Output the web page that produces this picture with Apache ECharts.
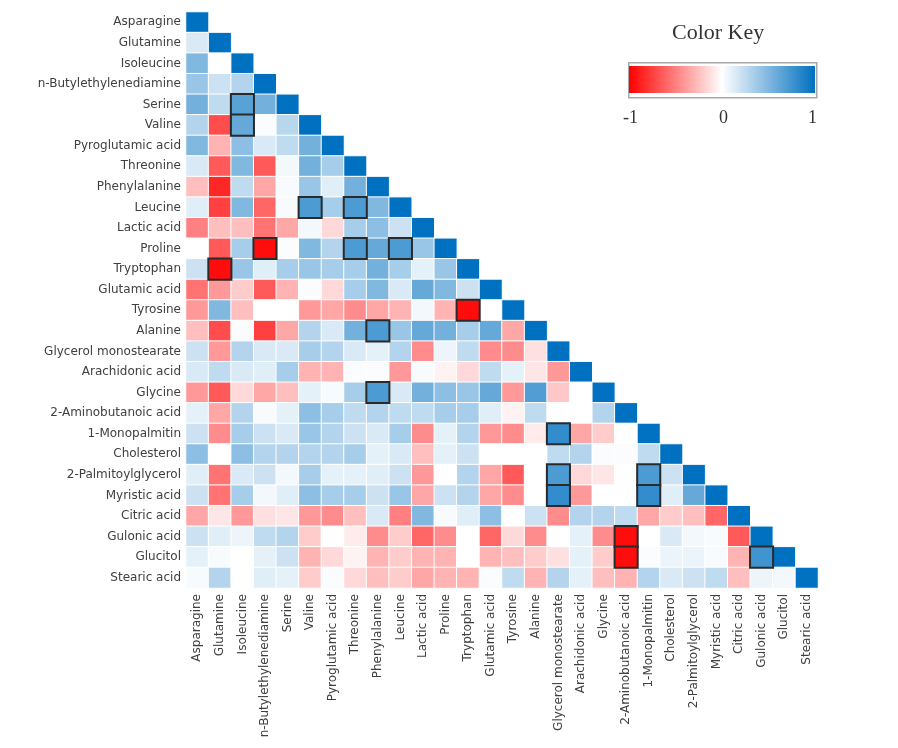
<!DOCTYPE html>
<html>
<head>
<meta charset="utf-8">
<script src="https://cdn.jsdelivr.net/npm/echarts@6/dist/echarts.min.js"></script>
<style>html,body{margin:0;padding:0;background:#fff}#chart{width:898px;height:748px}</style>
</head>
<body>
<div id="chart"></div>
<script>
const labels = ["Asparagine","Glutamine","Isoleucine","n-Butylethylenediamine","Serine","Valine","Pyroglutamic acid","Threonine","Phenylalanine","Leucine","Lactic acid","Proline","Tryptophan","Glutamic acid","Tyrosine","Alanine","Glycerol monostearate","Arachidonic acid","Glycine","2-Aminobutanoic acid","1-Monopalmitin","Cholesterol","2-Palmitoylglycerol","Myristic acid","Citric acid","Gulonic acid","Glucitol","Stearic acid"];

// lower-triangle correlations, one row per variable (columns in label order)
const rowAsparagine = [1];
const rowGlutamine = [0.15, 1];
const rowIsoleucine = [0.5, 0.0, 1];
const rowButylethylenediamine = [0.4, 0.2, 0.3, 1];
const rowSerine = [0.55, 0.25, 0.65, 0.55, 1];
const rowValine = [0.3, -0.7, 0.6, 0.02, 0.28, 1];
const rowPyroglutamic = [0.5, -0.3, 0.45, 0.15, 0.25, 0.55, 1];
const rowThreonine = [0.15, -0.65, 0.5, -0.65, 0.05, 0.55, 0.35, 1];
const rowPhenylalanine = [-0.25, -0.85, 0.25, -0.35, 0.03, 0.4, 0.12, 0.55, 1];
const rowLeucine = [0.12, -0.75, 0.5, -0.6, 0.03, 0.7, 0.35, 0.7, 0.5, 1];
const rowLactic = [-0.5, -0.25, -0.25, -0.55, -0.35, 0.05, -0.15, 0.35, 0.45, 0.2, 1];
const rowProline = [0.0, -0.65, 0.35, -0.95, 0.02, 0.5, 0.3, 0.7, 0.6, 0.7, 0.4, 1];
const rowTryptophan = [0.2, -0.95, 0.4, 0.12, 0.35, 0.4, 0.35, 0.35, 0.55, 0.35, 0.1, 0.4, 1];
const rowGlutamic = [-0.55, -0.4, -0.2, -0.65, -0.3, 0.02, -0.15, 0.35, 0.5, 0.15, 0.6, 0.5, 0.2, 1];
const rowTyrosine = [-0.4, 0.5, -0.25, 0.0, 0.0, -0.4, -0.35, -0.45, -0.35, -0.3, 0.05, -0.3, -0.95, 0.0, 1];
const rowAlanine = [-0.25, -0.7, 0.02, -0.75, -0.35, 0.3, 0.15, 0.55, 0.7, 0.4, 0.6, 0.55, 0.35, 0.6, -0.35, 1];
const rowGlycerolMonostearate = [0.2, -0.4, 0.3, 0.15, 0.15, 0.35, 0.3, 0.15, 0.1, 0.3, -0.45, 0.07, 0.25, -0.45, -0.45, -0.12, 1];
const rowArachidonic = [0.15, 0.25, 0.15, 0.12, 0.35, -0.3, -0.3, 0.02, 0.02, -0.4, 0.03, -0.05, -0.15, 0.25, 0.1, -0.1, -0.4, 1];
const rowGlycine = [-0.4, -0.65, -0.15, -0.35, -0.25, 0.1, 0.03, 0.35, 0.7, 0.15, 0.55, 0.45, 0.4, 0.6, -0.4, 0.68, -0.22, 0.0, 1];
const rowAminobutanoic = [0.1, -0.35, 0.3, 0.03, 0.1, 0.45, 0.35, 0.25, 0.3, 0.25, 0.25, 0.35, 0.35, 0.12, -0.05, 0.25, 0.0, 0.0, 0.3, 1];
const rowMonopalmitin = [0.2, -0.45, 0.35, 0.2, 0.15, 0.4, 0.3, 0.2, 0.15, 0.35, -0.45, 0.1, 0.3, -0.4, -0.45, -0.08, 0.8, -0.35, -0.2, 0.0, 1];
const rowCholesterol = [0.45, 0.0, 0.45, 0.3, 0.3, 0.3, 0.3, 0.35, 0.1, 0.15, -0.25, 0.1, 0.2, 0.0, 0.0, 0.0, 0.25, 0.3, 0.02, 0.02, 0.25, 1];
const rowPalmitoylglycerol = [0.12, -0.55, 0.15, 0.2, 0.05, 0.35, 0.1, 0.1, 0.12, 0.2, -0.4, 0.0, 0.3, -0.35, -0.65, 0.0, 0.7, -0.15, -0.1, 0.0, 0.7, 0.2, 1];
const rowMyristic = [0.2, -0.55, 0.35, 0.05, 0.12, 0.45, 0.35, 0.35, 0.2, 0.4, -0.35, 0.2, 0.3, -0.35, -0.45, 0.0, 0.8, -0.4, 0.0, 0.0, 0.8, 0.12, 0.6, 1];
const rowCitric = [-0.35, -0.1, -0.4, -0.12, -0.1, -0.4, -0.45, -0.25, 0.15, -0.5, 0.5, 0.03, 0.12, 0.45, 0.0, 0.2, -0.45, 0.3, 0.3, 0.25, -0.35, -0.2, -0.25, -0.6, 1];
const rowGulonic = [0.2, 0.12, 0.07, 0.25, 0.3, -0.2, 0.0, -0.08, -0.45, -0.2, -0.6, -0.45, 0.0, -0.6, -0.15, -0.45, 0.0, 0.1, -0.45, -0.95, 0.0, 0.15, 0.05, 0.03, -0.65, 1];
const rowGlucitol = [0.1, 0.03, 0.0, 0.1, 0.2, -0.3, -0.15, -0.05, -0.3, -0.2, -0.3, -0.3, 0.0, -0.3, -0.25, -0.2, -0.12, 0.1, -0.2, -0.95, 0.02, 0.08, 0.08, 0.03, -0.3, 0.75, 1];
const rowStearic = [0.03, 0.3, 0.0, 0.12, 0.1, -0.2, 0.02, -0.15, -0.25, -0.2, -0.35, -0.3, -0.3, 0.02, 0.25, -0.3, 0.3, 0.1, -0.25, -0.3, 0.3, 0.15, 0.2, 0.25, -0.25, 0.07, 0.05, 1];

// highlighted (outlined) pairs: [row, column]
const highlighted = [[4,2],[5,2],[9,5],[9,7],[11,3],[11,7],[11,9],[12,1],[14,12],[15,8],[18,8],[20,16],[22,16],[22,20],[23,16],[23,20],[25,19],[26,19],[26,25]];

const keyTicks = ["-1", "0", "1"];

const rows = [rowAsparagine,rowGlutamine,rowIsoleucine,rowButylethylenediamine,rowSerine,rowValine,rowPyroglutamic,rowThreonine,rowPhenylalanine,rowLeucine,rowLactic,rowProline,rowTryptophan,rowGlutamic,rowTyrosine,rowAlanine,rowGlycerolMonostearate,rowArachidonic,rowGlycine,rowAminobutanoic,rowMonopalmitin,rowCholesterol,rowPalmitoylglycerol,rowMyristic,rowCitric,rowGulonic,rowGlucitol,rowStearic];

const cells = [];
rows.forEach((r, i) => r.forEach((v, j) => cells.push([j, i, v])));
const hiCells = highlighted.map(([i, j]) => [j, i, rows[i][j]]);

const chart = echarts.init(document.getElementById('chart'));
const labelFont = {fontFamily: 'DejaVu Sans', fontSize: 12, color: '#404040'};
chart.setOption({
  backgroundColor: '#ffffff',
  animation: false,
  grid: {left: 186, top: 12, width: 632, height: 576},
  xAxis: {
    type: 'category', data: labels,
    axisLine: {show: false}, axisTick: {show: false}, splitLine: {show: false},
    axisLabel: Object.assign({interval: 0, rotate: 90, margin: 6}, labelFont)
  },
  yAxis: {
    type: 'category', data: labels, inverse: true,
    axisLine: {show: false}, axisTick: {show: false}, splitLine: {show: false},
    axisLabel: Object.assign({interval: 0, margin: 5}, labelFont)
  },
  visualMap: {
    type: 'continuous', show: false, min: -1, max: 1, seriesIndex: [0, 1],
    inRange: {color: ['#ff0000', '#ffffff', '#0070c0']}
  },
  series: [
    {type: 'heatmap', data: cells, itemStyle: {borderColor: '#ffffff', borderWidth: 1}},
    {type: 'heatmap', data: hiCells, itemStyle: {borderColor: '#2a2a2a', borderWidth: 2}, z: 3}
  ],
  graphic: [
    {type: 'text', left: 672, top: 22, style: {text: 'Color Key', font: '22px "Liberation Serif"', fill: '#333'}},
    {type: 'rect', left: 628, top: 62, shape: {width: 188, height: 35}, style: {fill: '#fff', stroke: '#a8a8a8', lineWidth: 1.5}},
    {type: 'rect', left: 629, top: 66, shape: {width: 186, height: 27},
     style: {fill: new echarts.graphic.LinearGradient(0, 0, 1, 0, [
       {offset: 0, color: '#ff0000'}, {offset: 0.5, color: '#ffffff'}, {offset: 1, color: '#0070c0'}])}},
    {type: 'text', left: 623, top: 109, style: {text: keyTicks[0], font: '18px "Liberation Serif"', fill: '#333'}},
    {type: 'text', left: 719, top: 109, style: {text: keyTicks[1], font: '18px "Liberation Serif"', fill: '#333'}},
    {type: 'text', left: 808, top: 109, style: {text: keyTicks[2], font: '18px "Liberation Serif"', fill: '#333'}}
  ]
});
</script>
</body>
</html>
